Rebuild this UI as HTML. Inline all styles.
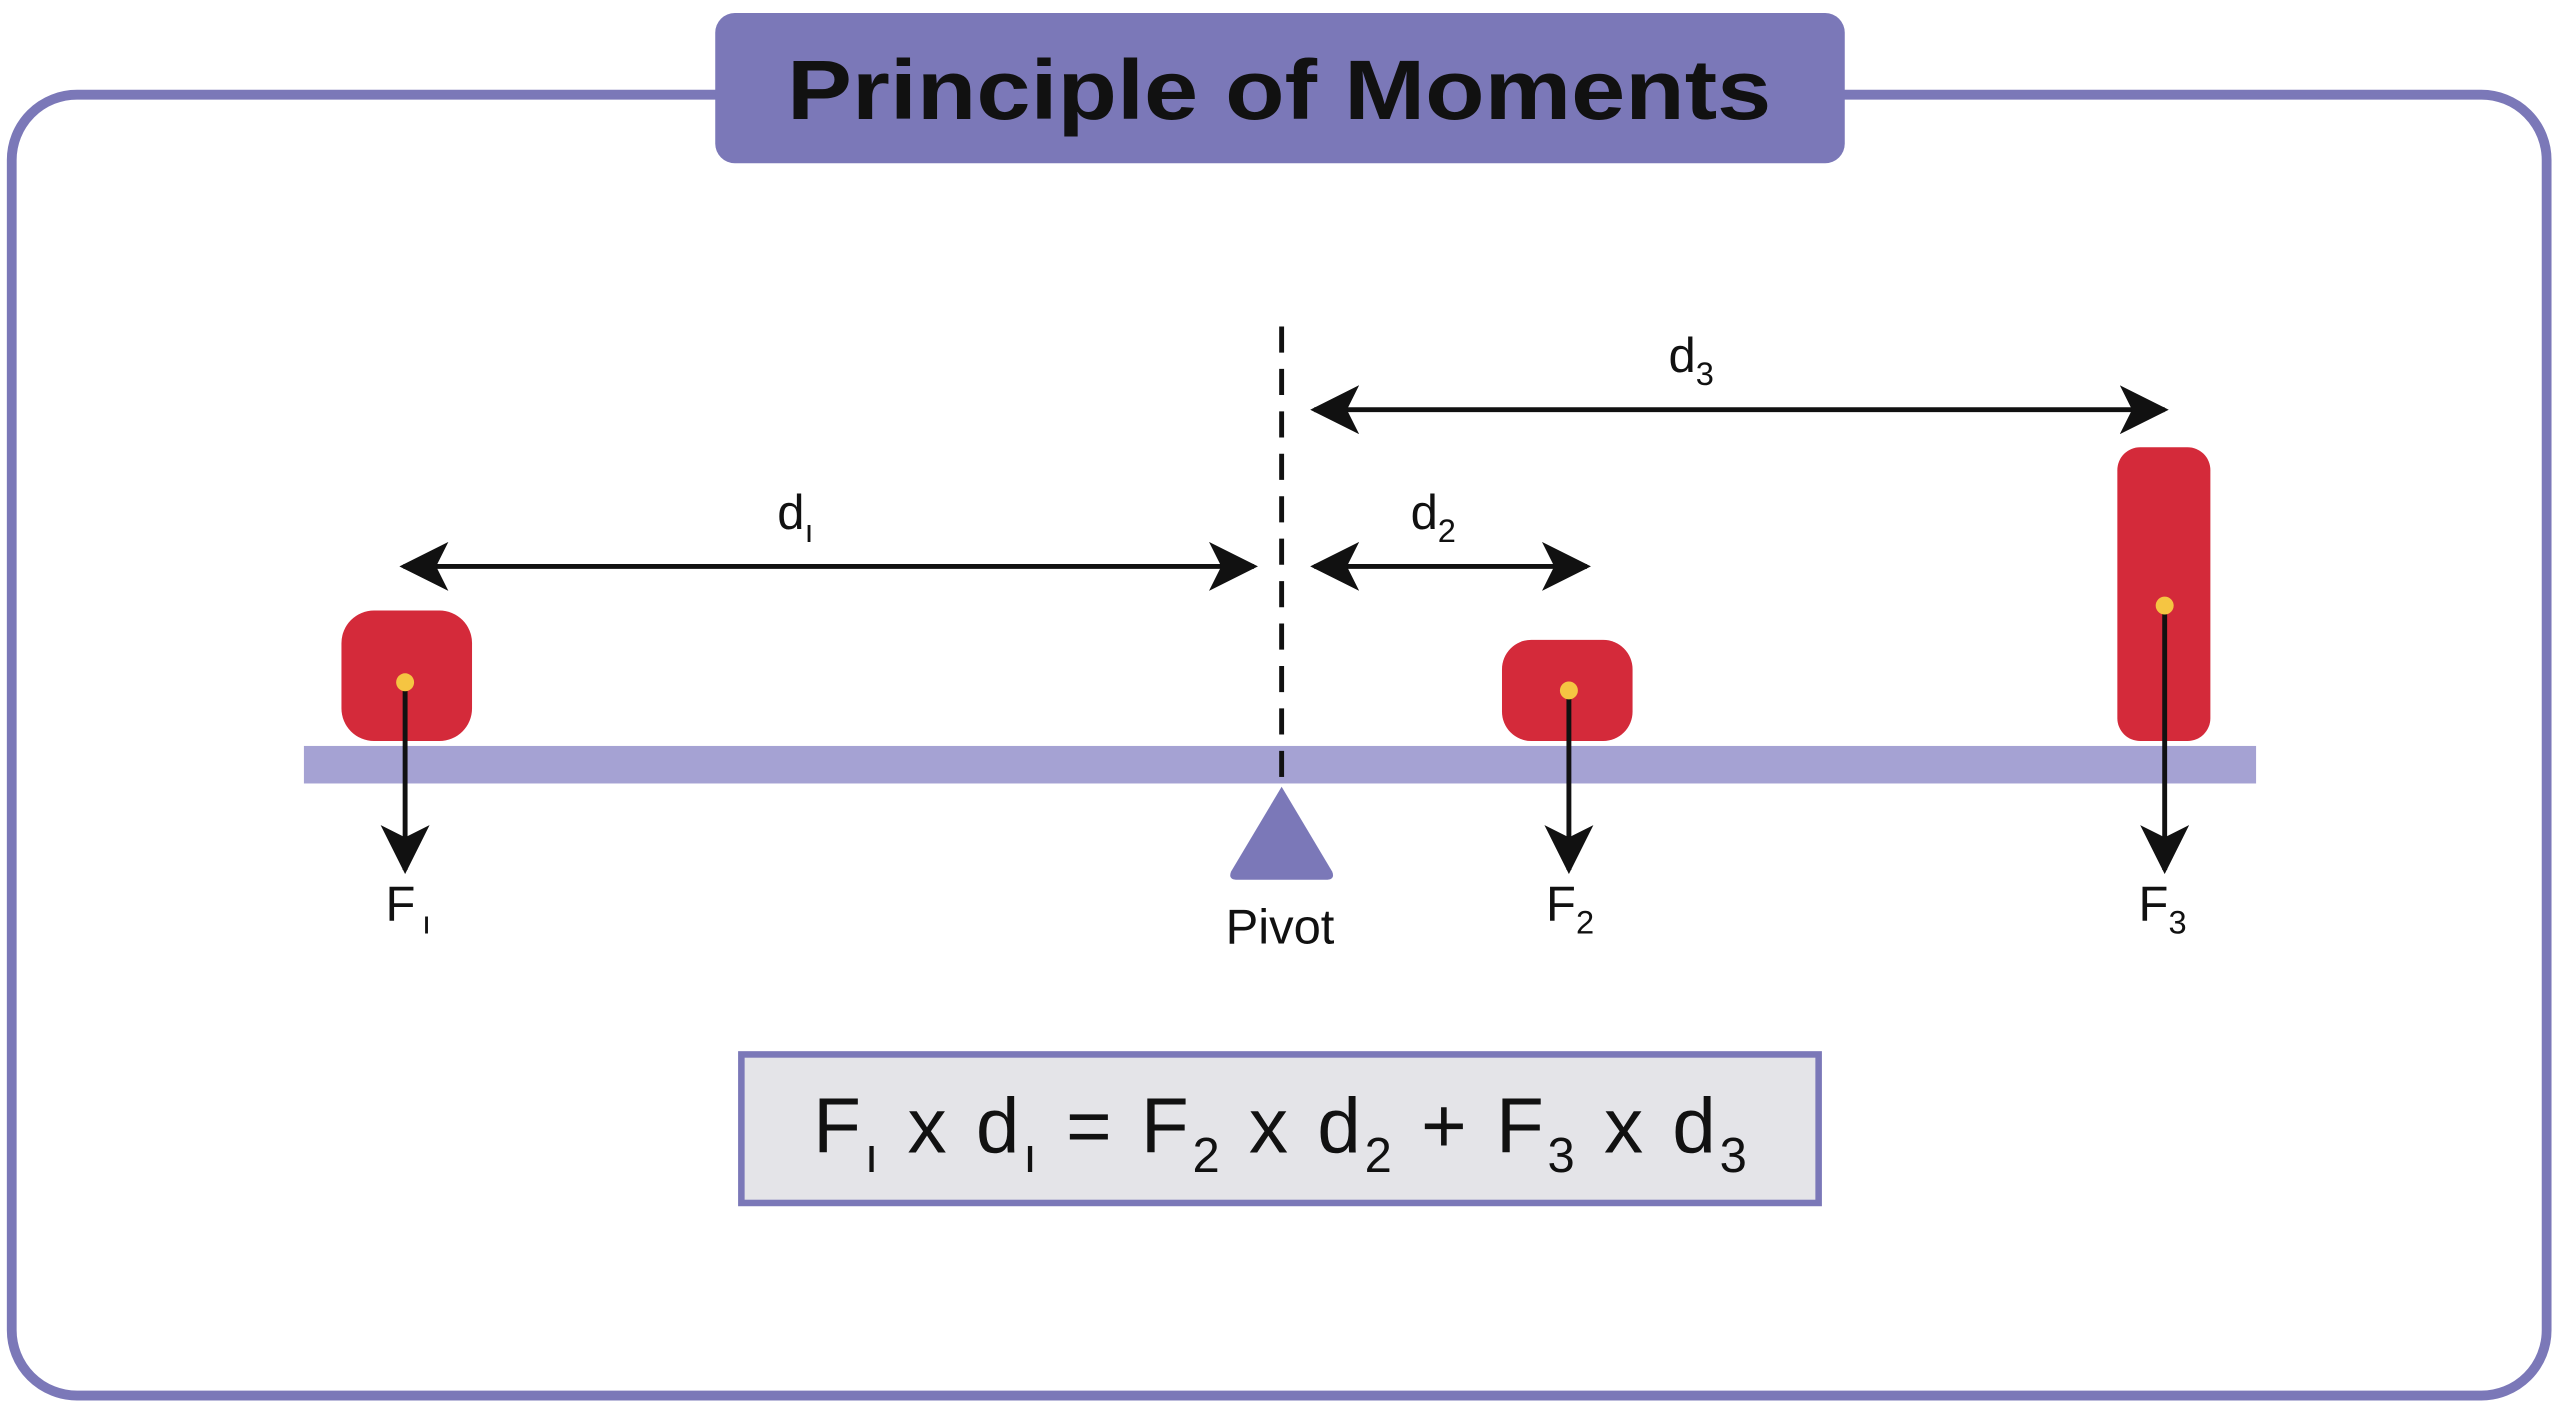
<!DOCTYPE html>
<html><head><meta charset="utf-8"><style>
html,body{margin:0;padding:0;background:#fff;}
svg{display:block;}
text{font-family:"Liberation Sans",sans-serif;fill:#111;}
</style></head><body>
<svg width="2560" height="1407" viewBox="0 0 1568 862" xmlns="http://www.w3.org/2000/svg">
<defs>
<marker id="ahb" viewBox="0 0 12 12" refX="11" refY="6" markerWidth="30" markerHeight="30" markerUnits="userSpaceOnUse" orient="auto-start-reverse">
<path d="M0,0 L12,6 L0,12 L3,6 z" fill="#111"/>
</marker>
</defs>
<rect x="7" y="58" width="1553" height="797" rx="40" fill="#fff" stroke="#7b78b8" stroke-width="6"/>
<rect x="438" y="8" width="692" height="92" rx="12" fill="#7b78b8"/>
<text x="482" y="73" font-size="52" font-weight="bold" textLength="603" lengthAdjust="spacingAndGlyphs">Principle of Moments</text>

<rect x="186" y="457" width="1196" height="23" fill="#a5a2d3"/>
<line x1="785" y1="200" x2="785" y2="480" stroke="#111" stroke-width="3" stroke-dasharray="16,10"/>
<path d="M785,482 L816,534 Q818,539 812,539 L758,539 Q752,539 754,534 Z" fill="#7b78b8"/>
<text x="784" y="578" font-size="30" text-anchor="middle">Pivot</text>

<rect x="209" y="374" width="80" height="80" rx="20" fill="#d42a3a"/>
<rect x="920" y="392" width="80" height="62" rx="18" fill="#d42a3a"/>
<rect x="1297" y="274" width="57" height="180" rx="14" fill="#d42a3a"/>

<line x1="248" y1="418" x2="248" y2="533" stroke="#111" stroke-width="3" marker-end="url(#ahb)"/>
<line x1="961" y1="423" x2="961" y2="533" stroke="#111" stroke-width="3" marker-end="url(#ahb)"/>
<line x1="1326" y1="371" x2="1326" y2="533" stroke="#111" stroke-width="3" marker-end="url(#ahb)"/>
<circle cx="248" cy="418" r="5.5" fill="#f5c542"/>
<circle cx="961" cy="423" r="5.5" fill="#f5c542"/>
<circle cx="1326" cy="371" r="5.5" fill="#f5c542"/>

<line x1="247" y1="347" x2="768" y2="347" stroke="#111" stroke-width="3" marker-start="url(#ahb)" marker-end="url(#ahb)"/>
<line x1="805" y1="347" x2="972" y2="347" stroke="#111" stroke-width="3" marker-start="url(#ahb)" marker-end="url(#ahb)"/>
<line x1="805" y1="251" x2="1326" y2="251" stroke="#111" stroke-width="3" marker-start="url(#ahb)" marker-end="url(#ahb)"/>

<text x="476" y="324" font-size="30">d<tspan font-size="20" dy="8">ı</tspan></text>
<text x="864" y="324" font-size="30">d<tspan font-size="20" dy="8">2</tspan></text>
<text x="1022" y="228" font-size="30">d<tspan font-size="20" dy="8">3</tspan></text>

<text x="236" y="564" font-size="30">F<tspan font-size="20" dy="8" dx="4">ı</tspan></text>
<text x="947" y="564" font-size="30">F<tspan font-size="20" dy="8">2</tspan></text>
<text x="1310" y="564" font-size="30">F<tspan font-size="20" dy="8">3</tspan></text>

<rect x="454" y="646" width="660" height="91" fill="#e4e4e8" stroke="#7b78b8" stroke-width="4"/>
<text x="498" y="706" font-size="48" textLength="572" lengthAdjust="spacing">F<tspan font-size="30" dy="12">ı</tspan><tspan dy="-12"> x d</tspan><tspan font-size="30" dy="12">ı</tspan><tspan dy="-12"> = F</tspan><tspan font-size="30" dy="12">2</tspan><tspan dy="-12"> x d</tspan><tspan font-size="30" dy="12">2</tspan><tspan dy="-12"> + F</tspan><tspan font-size="30" dy="12">3</tspan><tspan dy="-12"> x d</tspan><tspan font-size="30" dy="12">3</tspan></text>
</svg>
</body></html>
